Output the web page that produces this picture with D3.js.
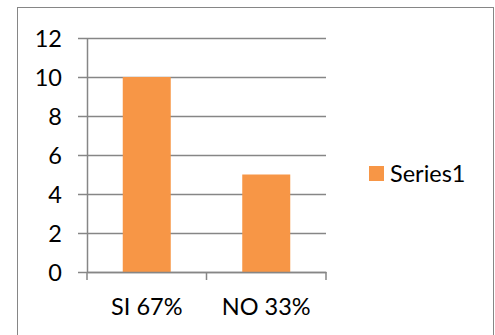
<!DOCTYPE html>
<html>
<head>
<meta charset="utf-8">
<script src="https://cdn.jsdelivr.net/npm/d3@7"></script>
<style>
  html, body { margin: 0; padding: 0; background: #fff; }
  svg { display: block; }
  text { font-family: Lato, "Open Sans", sans-serif; fill: #000; }
</style>
</head>
<body>
<svg id="chart" width="495" height="335"></svg>
<script>
const categories = ["SI 67%", "NO 33%"];
const values = [10, 5];
const seriesName = "Series1";
const yTicks = [0, 2, 4, 6, 8, 10, 12];

const svg = d3.select("#chart");
const plot = { left: 87, right: 326, top: 38, bottom: 272 };
const grid = "#868686";
const barColor = "#F79646";
const fontSize = 23.5;

// outer chart frame
svg.append("rect")
  .attr("x", 17.5).attr("y", 7.5)
  .attr("width", 476).attr("height", 340)
  .attr("fill", "#fff").attr("stroke", grid).attr("stroke-width", 1);

const x = d3.scaleBand().domain(categories).range([plot.left, plot.right]).paddingInner(0).paddingOuter(0);
const y = d3.scaleLinear().domain([0, 12]).range([plot.bottom, plot.top]);

// horizontal gridlines with left tick marks
const yAxis = svg.append("g")
  .attr("transform", `translate(${plot.left},0)`)
  .call(d3.axisLeft(y).tickValues(yTicks).tickSize(9).tickSizeOuter(0).tickPadding(16));
yAxis.select(".domain").attr("stroke", grid).attr("stroke-width", 1.5);
yAxis.selectAll(".tick line").attr("stroke", grid).attr("stroke-width", 1.5)
  .clone().attr("x1", 0).attr("x2", plot.right - plot.left);
yAxis.selectAll(".tick text").attr("font-size", fontSize)
  .style("font-family", "Lato, 'Open Sans', sans-serif").attr("fill", "#000")
  .attr("dy", "0.34em");

// bars
const bw = 48;
svg.append("g").selectAll("rect").data(categories).join("rect")
  .attr("x", (d) => x(d) + x.bandwidth() / 2 - bw / 2)
  .attr("y", (d, i) => y(values[i]))
  .attr("width", bw)
  .attr("height", (d, i) => y(0) - y(values[i]))
  .attr("fill", barColor);

// category axis
const xAxis = svg.append("g")
  .attr("transform", `translate(0,${plot.bottom})`)
  .call(d3.axisBottom(x).tickSize(0).tickPadding(0));
xAxis.select(".domain").attr("stroke", grid).attr("stroke-width", 1.5);
xAxis.selectAll(".tick text").attr("font-size", fontSize)
  .style("font-family", "Lato, 'Open Sans', sans-serif").attr("fill", "#000")
  .attr("y", 43).attr("dy", 0);

// category separators
const seps = [plot.left, ...categories.map(c => x(c) + x.bandwidth())];
svg.append("g").selectAll("line").data(seps).join("line")
  .attr("x1", d => d).attr("x2", d => d)
  .attr("y1", plot.bottom).attr("y2", plot.bottom + 8)
  .attr("stroke", grid).attr("stroke-width", 1.5);

// legend
const lg = svg.append("g").attr("transform", "translate(369,166)");
lg.append("rect").attr("width", 15).attr("height", 15).attr("fill", barColor);
lg.append("text").attr("x", 21).attr("y", 16).attr("font-size", fontSize).text(seriesName);
</script>
</body>
</html>
